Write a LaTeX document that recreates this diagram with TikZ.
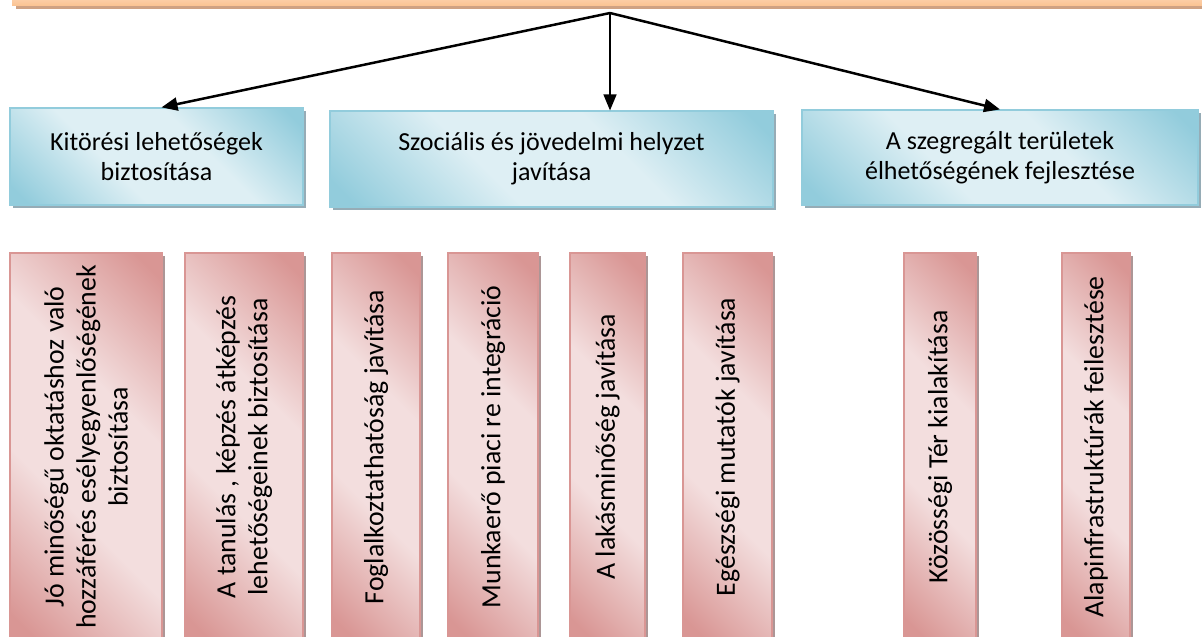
\documentclass[tikz,border=0pt]{standalone}
\usepackage{fontspec}
\setmainfont{Carlito}
\usepackage{xcolor}
\usetikzlibrary{arrows.meta,shadows}
\definecolor{barfill}{RGB}{251,196,148}
\definecolor{barlight}{RGB}{253,214,180}
\definecolor{barshadow}{RGB}{207,162,131}
\definecolor{aqualight}{RGB}{222,239,244}
\definecolor{aquadark}{RGB}{146,204,220}
\definecolor{aquashadow}{RGB}{150,172,182}
\definecolor{roselight}{RGB}{243,222,222}
\definecolor{rosedark}{RGB}{217,150,148}
\definecolor{roseshadow}{RGB}{172,150,150}
\pgfdeclarehorizontalshading{aquafade}{100bp}{color(0bp)=(aquadark); color(18bp)=(aquadark);
  color(40bp)=(aqualight); color(60bp)=(aqualight); color(82bp)=(aquadark); color(100bp)=(aquadark)}
\pgfdeclarehorizontalshading{rosefade}{100bp}{color(0bp)=(rosedark); color(18bp)=(rosedark);
  color(40bp)=(roselight); color(60bp)=(roselight); color(82bp)=(rosedark); color(100bp)=(rosedark)}
\newcommand{\Upright}[1]{\rotatebox{90}{\parbox{380pt}{\centering #1}}}
\tikzstyle{bar}=[minimum width=1190pt, minimum height=10pt, inner sep=0pt, top color=barlight, bottom color=barfill,
  drop shadow={shadow xshift=4pt,shadow yshift=-4pt,fill=barshadow,opacity=1}]
\tikzstyle{goal}=[draw=aquadark, line width=1.2pt, shading=aquafade, shading angle=45, align=center,
  font=\fontsize{26}{30}\selectfont,
  drop shadow={shadow xshift=3pt,shadow yshift=-3pt,fill=aquashadow,opacity=1}]
\tikzstyle{task}=[draw=rosedark, line width=1.5pt, shading=rosefade, shading angle=45,
  minimum height=388pt, inner sep=0pt, font=\fontsize{27.8}{32}\selectfont,
  drop shadow={shadow xshift=3pt,shadow yshift=-3pt,fill=roseshadow,opacity=1}]
\tikzstyle{link}=[-{Triangle[length=16pt,width=13pt]}, line width=2.5pt]

\begin{document}
\begin{tikzpicture}[x=1pt,y=-1pt]
  \useasboundingbox (0,0) rectangle (1202,637);
  %% Top band
  \draw (607,0) node[bar] (B) {};
  \coordinate (hub) at (610,13);

  %% Goals
  \draw (156.5,156.5) node[goal,minimum width=293pt,minimum height=97pt] (G1) {Kitörési lehetőségek\\biztosítása};
  \draw (551.5,159) node[goal,minimum width=443pt,minimum height=96pt] (G2) {Szociális és jövedelmi helyzet\\javítása};
  \draw (1000,157.5) node[goal,minimum width=396pt,minimum height=95pt] (G3) {A szegregált területek\\élhetőségének fejlesztése};

  %% Tasks
  \draw (86,447) node[task,minimum width=152pt] (T1) {\Upright{Jó minőségű oktatáshoz való\\hozzáférés esélyegyenlőségének\\biztosítása}};
  \draw (244,447) node[task,minimum width=118pt] (T2) {\Upright{A tanulás , képzés átképzés\\lehetőségeinek biztosítása}};
  \draw (376,447) node[task,minimum width=88pt] (T3) {\Upright{Foglalkoztathatóság javítása}};
  \draw (493,447) node[task,minimum width=90pt] (T4) {\Upright{Munkaerő piaci re integráció}};
  \draw (607.5,447) node[task,minimum width=75pt] (T5) {\Upright{A lakásminőség javítása}};
  \draw (727.5,447) node[task,minimum width=89pt] (T6) {\Upright{Egészségi mutatók javítása}};
  \draw (940,447) node[task,minimum width=72pt] (T7) {\Upright{Közösségi Tér kialakítása}};
  \draw (1096,447) node[task,minimum width=68pt] (T8) {\Upright{Alapinfrastruktúrák feilesztése}};

  %% Arrows
  \draw[link] (hub) -- ([xshift=5pt]G1.north);
  \draw[link,line width=1.5pt] (hub) -- (hub |- G2.north);
  \draw[link] (hub) -- (G3.north);
\end{tikzpicture}
\end{document}
